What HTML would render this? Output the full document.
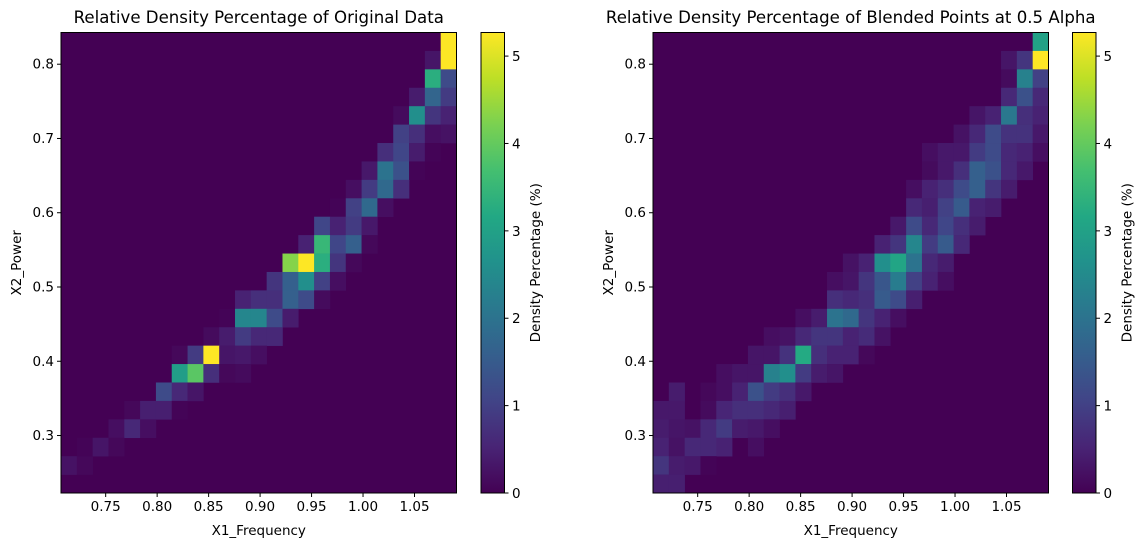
<!DOCTYPE html>
<html><head><meta charset="utf-8"><style>
html,body{margin:0;padding:0;background:#fff;}
svg text{font-family:"DejaVu Sans","Liberation Sans",sans-serif;fill:#000;}
</style></head><body>
<svg id="fig" width="1143" height="547" viewBox="0 0 1143 547" xmlns="http://www.w3.org/2000/svg">
<defs>
<linearGradient id="vir" x1="0" y1="1" x2="0" y2="0">
<stop offset="0" stop-color="#440154"/><stop offset="0.1" stop-color="#482475"/><stop offset="0.2" stop-color="#414487"/><stop offset="0.3" stop-color="#355f8d"/><stop offset="0.4" stop-color="#2a788e"/><stop offset="0.5" stop-color="#21918c"/><stop offset="0.6" stop-color="#22a884"/><stop offset="0.7" stop-color="#44bf70"/><stop offset="0.8" stop-color="#7ad151"/><stop offset="0.9" stop-color="#bddf26"/><stop offset="1" stop-color="#fde725"/>
</linearGradient>
</defs>
</svg>
<script>
// Grid rows (top row first): [startColumn, values...] ; 25x25 bins
const leftRows = [
[24,[5.3]],[23,[.3,5.3]],[23,[3.3,1.2]],[22,[.4,1.7,.9]],[21,[.15,2.6,.8,.5]],
[21,[1.0,.7,.2,.25]],[20,[.7,1.1,.4,.05]],[19,[.35,2.0,1.3,.05]],[18,[.2,.9,1.8,.7]],[17,[.05,1.0,1.8,.2]],
[16,[1.1,.5,.9,.35]],[15,[.5,3.5,1.1,1.6,.1]],[14,[4.3,5.3,3.3,.8,.1]],[13,[.8,1.6,2.6,1.0,.2]],[11,[.5,.7,.7,1.6,1.2,.15]],
[10,[.05,2.4,2.4,1.2,.4]],[9,[.15,.4,.9,.6,.6]],[7,[.1,.9,5.3,.3,.35,.2]],[7,[2.9,3.9,.7,.1,.15]],[6,[1.2,.6,.3]],
[4,[.1,.45,.45,.05]],[3,[.2,.6,.2]],[1,[.05,.3,.1]],[0,[.25,.1]],[0,[]]
];
const rightRows = [
[24,[3.0]],[22,[.3,.8,5.3]],[22,[.15,2.3,1.0]],[22,[.6,1.3,.6]],[20,[.3,.5,2.1,.7,.5]],
[19,[.25,.6,1.2,.75,.75,.35]],[17,[.2,.35,.35,.9,1.2,.6,.5,.2]],[17,[.15,.35,.7,1.6,1.3,.6,.35]],[16,[.2,.5,.7,1.2,1.6,.8,.4]],[16,[.6,.45,1.0,1.5,.5,.4]],
[15,[.35,1.2,.6,1.1,.7,.4]],[14,[.5,.8,2.4,.9,1.5,.6]],[12,[.25,.5,2.6,3.1,2.0,.6,.4]],[11,[.2,.3,.8,1.4,2.2,1.0,.5,.2]],[11,[.7,.6,.7,1.5,1.2,.45]],
[9,[.2,.4,2.0,1.8,.8,.5,.2]],[7,[.2,.25,.6,.8,.8,.5,.65,.25]],[6,[.3,.3,.75,3.2,.7,.5,.5,.1]],[4,[.2,.3,.3,2.3,2.6,.9,.4,.3]],[1,[.4,0,.1,.2,.5,1.3,.9,.7,.35]],
[0,[.35,.35,0,.15,.55,.7,.7,.6,.45]],[0,[.4,.3,.25,.6,.9,.4,.35,.2]],[0,[.5,.25,.6,.6,.5,0,.2]],[0,[.8,.4,.35,.05]],[0,[.45,.45]]
];
const xTicks = [0.75,0.80,0.85,0.90,0.95,1.00,1.05];
const xTickLabels = ["0.75","0.80","0.85","0.90","0.95","1.00","1.05"];
const yTicks = [0.3,0.4,0.5,0.6,0.7,0.8];
const yTickLabels = ["0.3","0.4","0.5","0.6","0.7","0.8"];
const cbTicks = [0,1,2,3,4,5];
const xDomain = [0.7066,1.0908];
const yDomain = [0.2226,0.8427];
const vmax = 5.27;
const nBins = 25;

const NS="http://www.w3.org/2000/svg";
const svg=document.getElementById('fig');
const stops=["#440154","#482475","#414487","#355f8d","#2a788e","#21918c","#22a884","#44bf70","#7ad151","#bddf26","#fde725"];
function hex(h){return [1,3,5].map(i=>parseInt(h.substr(i,2),16));}
function viridis(t){t=Math.max(0,Math.min(1,t));const p=t*10,i=Math.min(9,Math.floor(p)),f=p-i;
const a=hex(stops[i]),b=hex(stops[i+1]);return 'rgb('+a.map((v,k)=>Math.round(v+(b[k]-v)*f)).join(',')+')';}
function mk(tag,attrs,parent){const e=document.createElementNS(NS,tag);for(const k in attrs)e.setAttribute(k,attrs[k]);(parent||svg).appendChild(e);return e;}

function panel(rows,x0,cbx,title,pfx){
  const top=32.5,bot=493,w=395.5,h=bot-top;
  const sx=v=>x0+(v-xDomain[0])/(xDomain[1]-xDomain[0])*w;
  const sy=v=>bot-(v-yDomain[0])/(yDomain[1]-yDomain[0])*h;
  const g=mk('g',{});
  
  
  const bg=mk('rect',{x:x0,y:top,width:w,height:h,fill:stops[0]},g);
  
  
  const cw=w/nBins,ch=h/nBins;
  rows.forEach((r,ri)=>{r[1].forEach((v,j)=>{if(v<=0)return;const c=r[0]+j;
    const cell=mk('rect',{x:x0+c*cw,y:top+ri*ch,width:cw+0.3,height:ch+0.3,fill:viridis(v/vmax)},g);
    
    
  });});
  const fr=mk('rect',{x:x0,y:top,width:w,height:h,fill:'none',stroke:'#000','stroke-width':1});
  
  
  xTicks.forEach((t,i)=>{const x=sx(t);mk('line',{x1:x,x2:x,y1:bot,y2:bot+4,stroke:'#000'});
    const tx=mk('text',{x:x,y:bot+18,'font-size':'13.5','text-anchor':'middle'});tx.textContent=xTickLabels[i];
    
    });
  yTicks.forEach((t,i)=>{const y=sy(t);mk('line',{x1:x0-4,x2:x0,y1:y,y2:y,stroke:'#000'});
    const tx=mk('text',{x:x0-7,y:y+4.5,'font-size':'13.5','text-anchor':'end'});tx.textContent=yTickLabels[i];
    
    });
  const tt=mk('text',{x:x0+w/2,y:23,'font-size':'16.6','text-anchor':'middle'});tt.textContent=title;
  
  
  const xl=mk('text',{x:x0+w/2,y:535,'font-size':'13.5','text-anchor':'middle'});xl.textContent='X1_Frequency';
  
  
  const yl=mk('text',{x:0,y:0,'font-size':'13.5','text-anchor':'middle',transform:'translate('+(x0-40)+','+((top+bot)/2)+') rotate(-90)'});yl.textContent='X2_Power';
  
  
  const cb=mk('rect',{x:cbx,y:top,width:23.5,height:h,fill:'url(#vir)',stroke:'#000','stroke-width':1});
  
  
  cbTicks.forEach(t=>{const y=bot-t/vmax*h;mk('line',{x1:cbx+23.5,x2:cbx+27.5,y1:y,y2:y,stroke:'#000'});
    const tx=mk('text',{x:cbx+31,y:y+5,'font-size':'13.5'});tx.textContent=String(t);
    
    });
  const cl=mk('text',{x:0,y:0,'font-size':'13.5','text-anchor':'middle',transform:'translate('+(cbx+59)+','+((top+bot)/2)+') rotate(-90)'});cl.textContent='Density Percentage (%)';
  
  
}
panel(leftRows,61,481,'Relative Density Percentage of Original Data','original');
panel(rightRows,653,1072.5,'Relative Density Percentage of Blended Points at 0.5 Alpha','blended');
</script>
</body></html>
